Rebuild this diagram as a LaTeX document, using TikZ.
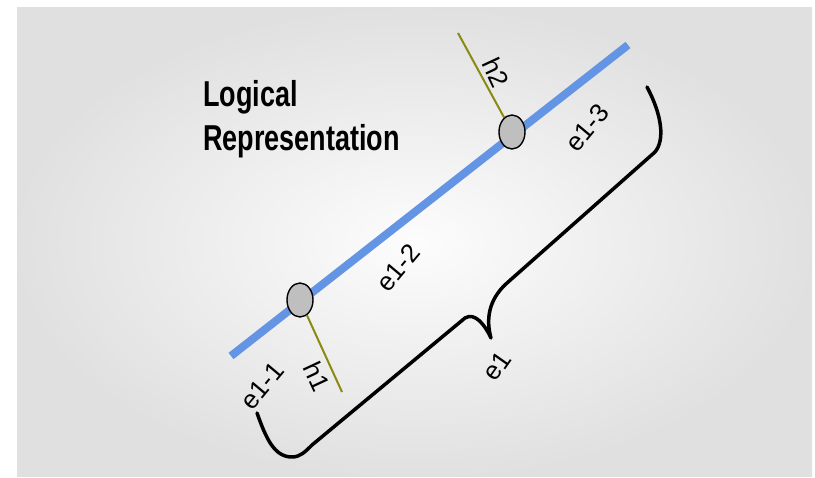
\documentclass[tikz,border=0pt]{standalone}
\usepackage{fontspec}
\setmainfont{Liberation Sans}
\usetikzlibrary{shapes.geometric}
\definecolor{segblue}{RGB}{100,148,228}
\definecolor{holive}{RGB}{138,138,18}
\tikzset{
  seg/.style   = {line width=8pt, segblue},
  junc/.style  = {ellipse, draw=black, line width=1.4pt, fill=black!25, minimum width=26pt, minimum height=34pt, inner sep=0},
  hook/.style  = {holive, line width=2pt},
  lbl/.style   = {font=\fontsize{26}{28}\selectfont, inner sep=0},
  brc/.style   = {line width=3.5pt, line join=round, line cap=round}
}

\begin{document}
\begin{tikzpicture}[x=1pt,y=-1pt]
  \useasboundingbox (0,0) rectangle (815,478);
  \fill[white] (0,0) rectangle (815,478);
  \shade[inner color=black!1, outer color=black!12] (17,8) rectangle (812,477);
  \node[font=\bfseries\fontsize{36}{44}\selectfont, align=left, anchor=north west, xscale=0.75, transform shape, inner sep=0] (title) at (203,80) {Logical\\Representation};
  % edge e1 and its two splits
  \coordinate (e1s) at (231,356); \coordinate (e1t) at (628,45);
  \draw[seg] (e1s) -- (e1t);
  \node[junc] (n1) at (300,300){}; \coordinate (h1e) at (342,392); \draw[hook] (n1) -- (h1e);
  \node[junc] (n2) at (512,132){}; \coordinate (h2e) at (458,33);  \draw[hook] (n2) -- (h2e);
  \node[lbl,rotate=-65] (h1) at (317,377) {h1};
  \node[lbl,rotate=-65] (h2) at (496,73)  {h2};
  \node[lbl,rotate=50] (e11) at (262,386) {e1-1};
  \node[lbl,rotate=50] (e12) at (398,268) {e1-2};
  \node[lbl,rotate=50] (e13) at (587,128) {e1-3};
  \node[lbl,rotate=55] (e1)  at (497,366) {e1};
  % brace
  \draw[brc] (257,413) .. controls (266,438) and (274,457) .. (292,457) .. controls (300,457) and (305,452) .. (312,445)
    -- (465,318) .. controls (475,312) and (485,325) .. (491,338) .. controls (486,320) and (488,300) .. (507,283)
    -- (655,152) .. controls (665,140) and (662,115) .. (647,87);
\end{tikzpicture}
\end{document}
